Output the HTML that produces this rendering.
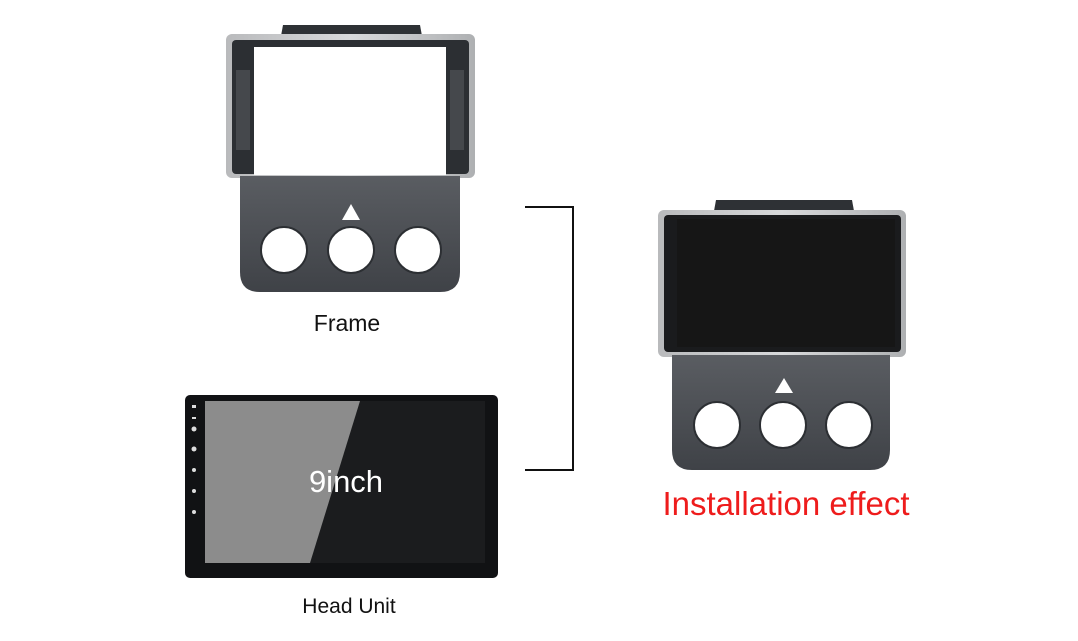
<!DOCTYPE html>
<html><head><meta charset="utf-8"><style>
html,body{margin:0;padding:0;background:#fff;width:1078px;height:641px;overflow:hidden}
svg{display:block}
text{font-family:"Liberation Sans",Arial,sans-serif}
</style></head><body>
<svg width="1078" height="641" viewBox="0 0 1078 641" xmlns="http://www.w3.org/2000/svg">
<defs>
<linearGradient id="silver" x1="0" x2="1"><stop offset="0" stop-color="#b9babc"/><stop offset="0.5" stop-color="#d8d9db"/><stop offset="1" stop-color="#aeb0b2"/></linearGradient>
<linearGradient id="dark" x1="0" y1="0" x2="0" y2="1"><stop offset="0" stop-color="#5a5d62"/><stop offset="1" stop-color="#3f4247"/></linearGradient>
</defs>
<!-- Frame -->
<path d="M283 25 L420 25 L422 36 L281 36 Z" fill="#2e3135"/>
<rect x="226" y="34" width="249" height="144" rx="6" fill="url(#silver)"/>
<rect x="232" y="40" width="237" height="134" rx="4" fill="#2c2f33"/>
<rect x="254" y="47" width="192" height="128" fill="#fff"/>
<rect x="236" y="70" width="14" height="80" fill="#45484c"/>
<rect x="450" y="70" width="14" height="80" fill="#45484c"/>
<path d="M240 176 L460 176 L460 272 Q460 292 440 292 L260 292 Q240 292 240 272 Z" fill="url(#dark)"/>
<polygon points="351,204 342,220 360,220" fill="#fff"/>
<circle cx="284" cy="250" r="23" fill="#fff" stroke="#2c2f33" stroke-width="2"/>
<circle cx="351" cy="250" r="23" fill="#fff" stroke="#2c2f33" stroke-width="2"/>
<circle cx="418" cy="250" r="23" fill="#fff" stroke="#2c2f33" stroke-width="2"/>
<text x="347" y="331" font-size="23" text-anchor="middle" fill="#111">Frame</text>
<!-- Head unit -->
<rect x="185" y="395" width="313" height="183" rx="5" fill="#111214"/>
<rect x="205" y="401" width="280" height="162" fill="#1b1c1e"/>
<polygon points="205,401 360,401 310,563 205,563" fill="#8c8c8c"/>
<g fill="#ddd"><rect x="192" y="405" width="4" height="3"/><rect x="192" y="417" width="4" height="2"/><circle cx="194" cy="429" r="2.5"/><circle cx="194" cy="449" r="2.5"/><circle cx="194" cy="470" r="2"/><circle cx="194" cy="491" r="2"/><circle cx="194" cy="512" r="2"/></g>
<text x="346" y="492" font-size="31" text-anchor="middle" fill="#fff">9inch</text>
<text x="349" y="613" font-size="21" text-anchor="middle" fill="#111">Head Unit</text>
<!-- Bracket -->
<path d="M525 207 L573 207 L573 470 L525 470" fill="none" stroke="#111" stroke-width="2"/>
<!-- Installation -->
<path d="M716 200 L852 200 L854 211 L714 211 Z" fill="#2e3135"/>
<rect x="658" y="210" width="248" height="147" rx="6" fill="url(#silver)"/>
<rect x="664" y="215" width="237" height="137" rx="4" fill="#1a1b1d"/>
<rect x="677" y="219" width="218" height="128" fill="#161616"/>
<path d="M672 355 L890 355 L890 450 Q890 470 870 470 L692 470 Q672 470 672 450 Z" fill="url(#dark)"/>
<polygon points="784,378 775,393 793,393" fill="#fff"/>
<circle cx="717" cy="425" r="23" fill="#fff" stroke="#2c2f33" stroke-width="2"/>
<circle cx="783" cy="425" r="23" fill="#fff" stroke="#2c2f33" stroke-width="2"/>
<circle cx="849" cy="425" r="23" fill="#fff" stroke="#2c2f33" stroke-width="2"/>
<text x="786" y="515" font-size="33" text-anchor="middle" fill="#ee1c1c">Installation effect</text>
</svg>
</body></html>
